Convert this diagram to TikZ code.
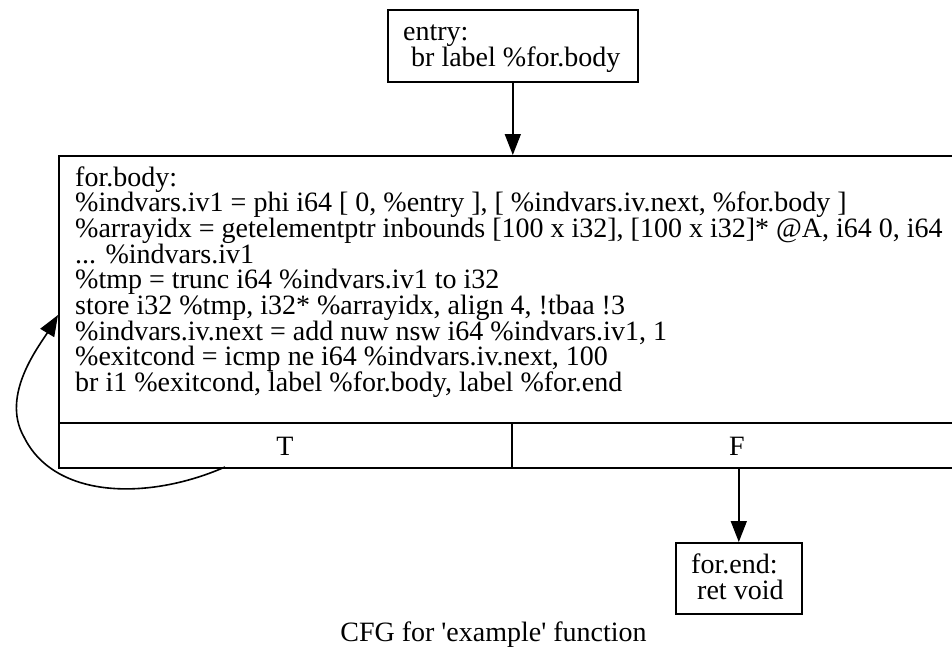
\documentclass[tikz,border=0pt]{standalone}
\usepackage{fontspec}
\setmainfont{Liberation Serif}[Ligatures=TeXOff]
\usetikzlibrary{arrows.meta}
\begin{document}
\begin{tikzpicture}[x=1pt,y=-1pt,
  box/.style={draw, line width=1.6pt, inner sep=0pt, anchor=north west},
  txt/.style={anchor=base west, inner sep=0pt, font=\fontsize{28}{30}\selectfont},
  ctxt/.style={anchor=base, inner sep=0pt, font=\fontsize{28}{30}\selectfont},
  flow/.style={line width=1.6pt, -{Triangle[length=21pt,width=16pt]}},
  rule/.style={line width=1.6pt},
]
\useasboundingbox[fill=white] (0,0) rectangle (952,650);
\begin{scope}
\clip (0,0) rectangle (952,650);

% entry block
\node[box, minimum width=250pt, minimum height=72pt] (entry) at (387,9) {};
\node[txt] (entry1) at (403,41) {entry:};
\node[txt] (entry2) at (411,66.5) {br label \%for.body};

% for.body block (record with T / F ports)
\node[box, minimum width=904pt, minimum height=312pt] (body) at (58,155) {};
\coordinate (divL) at (58,423);
\coordinate (divR) at (962,423);
\coordinate (portsplit) at (512,423);
\draw[rule] (divL) -- (divR);
\draw[rule] (portsplit) -- (portsplit |- body.south);

\node[txt] (b1) at (75,186)   {for.body:};
\node[txt] (b2) at (75,211.7) {\%indvars.iv1 = phi i64 [ 0, \%entry ], [ \%indvars.iv.next, \%for.body ]};
\node[txt] (b3) at (75,237.4) {\%arrayidx = getelementptr inbounds [100 x i32], [100 x i32]* @A, i64 0, i64};
\node[txt] (b4) at (75,263.1) {... \%indvars.iv1};
\node[txt] (b5) at (75,288.8) {\%tmp = trunc i64 \%indvars.iv1 to i32};
\node[txt] (b6) at (75,314.5) {store i32 \%tmp, i32* \%arrayidx, align 4, !tbaa !3};
\node[txt] (b7) at (75,340.2) {\%indvars.iv.next = add nuw nsw i64 \%indvars.iv1, 1};
\node[txt] (b8) at (75,365.9) {\%exitcond = icmp ne i64 \%indvars.iv.next, 100};
\node[txt] (b9) at (75,391.6) {br i1 \%exitcond, label \%for.body, label \%for.end};

\node[ctxt] (tport) at (285,455) {T};
\node[ctxt] (fport) at (737,455) {F};

% for.end block
\node[box, minimum width=126pt, minimum height=71pt] (forend) at (675,542) {};
\node[txt] (end1) at (691,573) {for.end:};
\node[txt] (end2) at (697,599) {ret void};

% edges
\draw[flow] (entry.south) -- (entry.south |- body.north);
\draw[flow] (forend.north |- body.south) -- (forend.north);
\coordinate (tout) at (225,467);
\coordinate (tin) at (58,315);
\draw[flow] (tout) .. controls (150,500) and (55,500) .. (24,437)
                   .. controls (0,395) and (40,345) .. (tin);

% caption
\node[ctxt] (caption) at (493.5,641) {CFG for 'example' function};
\end{scope}
\end{tikzpicture}
\end{document}
